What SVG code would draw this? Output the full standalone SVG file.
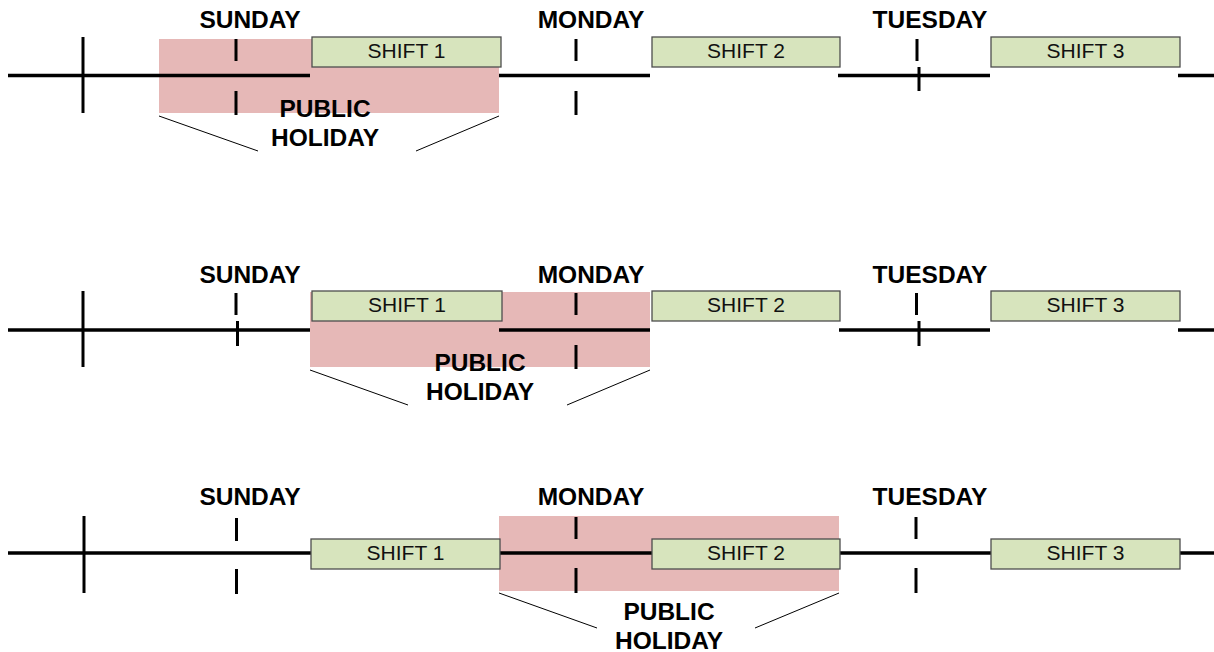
<svg xmlns="http://www.w3.org/2000/svg" width="1214" height="652" viewBox="0 0 1214 652">
<style>
.bg{fill:#ffffff}
.hol{fill:#e6b8b7}
.tl{stroke:#000;stroke-width:3.5;fill:none}
.tk{stroke:#000;stroke-width:3;fill:none}
.dg{stroke:#000;stroke-width:1;fill:none}
.sh{fill:#d7e4bd;stroke:#4d4d4d;stroke-width:1.3}
.st{font-family:"Liberation Sans",Arial,sans-serif;font-size:21px;fill:#111;text-anchor:middle}
.day{font-family:"Liberation Sans",Arial,sans-serif;font-size:24.5px;font-weight:bold;fill:#000;text-anchor:middle}
.ph{font-family:"Liberation Sans",Arial,sans-serif;font-size:24.5px;font-weight:bold;fill:#000;text-anchor:middle}
</style>
<rect class="bg" x="0" y="0" width="1214" height="652"/>

<!-- Panel 1 -->
<g id="holiday1">
<rect class="hol" x="159" y="39" width="340" height="74"/>
</g>
<g id="connectors1">
<line class="tl" x1="8" y1="75.5" x2="310" y2="75.5"/>
<line class="tl" x1="499" y1="75.5" x2="650" y2="75.5"/>
<line class="tl" x1="838" y1="75.5" x2="990" y2="75.5"/>
<line class="tl" x1="1178" y1="75.5" x2="1214" y2="75.5"/>
<line class="tk" x1="83" y1="37" x2="83" y2="113"/>
<line class="tk" x1="236" y1="39" x2="236" y2="61"/>
<line class="tk" x1="236" y1="91" x2="236" y2="115"/>
<line class="tk" x1="576" y1="39" x2="576" y2="61"/>
<line class="tk" x1="576" y1="91" x2="576" y2="115"/>
<line class="tk" x1="917" y1="39" x2="917" y2="61"/>
<line class="tk" x1="919" y1="67" x2="919" y2="91"/>
<line class="dg" x1="159" y1="116" x2="258" y2="151"/>
<line class="dg" x1="499" y1="116" x2="416" y2="151"/>
</g>
<g id="days1">
<text class="day" x="250" y="28">SUNDAY</text>
<text class="day" x="591" y="28">MONDAY</text>
<text class="day" x="930" y="28">TUESDAY</text>
</g>
<g id="p1-shift1"><rect class="sh" x="312" y="37" width="189" height="30"/><text class="st" x="406.5" y="58">SHIFT 1</text></g>
<g id="p1-shift2"><rect class="sh" x="652" y="37" width="188" height="30"/><text class="st" x="746" y="58">SHIFT 2</text></g>
<g id="p1-shift3"><rect class="sh" x="991" y="37" width="189" height="30"/><text class="st" x="1085.5" y="58">SHIFT 3</text></g>
<g id="p1-label"><text class="ph" x="325" y="117">PUBLIC</text><text class="ph" x="325" y="146">HOLIDAY</text></g>

<!-- Panel 2 -->
<g id="holiday2">
<rect class="hol" x="310" y="292" width="340" height="75"/>
</g>
<g id="connectors2">
<line class="tl" x1="8" y1="330" x2="310" y2="330"/>
<line class="tl" x1="499" y1="330" x2="650" y2="330"/>
<line class="tl" x1="839" y1="330" x2="990" y2="330"/>
<line class="tl" x1="1178" y1="330" x2="1214" y2="330"/>
<line class="tk" x1="83" y1="291" x2="83" y2="367"/>
<line class="tk" x1="236" y1="293" x2="236" y2="315"/>
<line class="tk" x1="237.5" y1="321" x2="237.5" y2="346"/>
<line class="tk" x1="576" y1="293" x2="576" y2="315"/>
<line class="tk" x1="576" y1="345" x2="576" y2="369"/>
<line class="tk" x1="916.5" y1="293" x2="916.5" y2="315"/>
<line class="tk" x1="919" y1="321" x2="919" y2="346"/>
<line class="dg" x1="310" y1="370" x2="408" y2="405"/>
<line class="dg" x1="650" y1="370" x2="567" y2="405"/>
</g>
<g id="days2">
<text class="day" x="250" y="283">SUNDAY</text>
<text class="day" x="591" y="283">MONDAY</text>
<text class="day" x="930" y="283">TUESDAY</text>
</g>
<g id="p2-shift1"><rect class="sh" x="312" y="291" width="190" height="30"/><text class="st" x="407" y="312">SHIFT 1</text></g>
<g id="p2-shift2"><rect class="sh" x="652" y="291" width="188" height="30"/><text class="st" x="746" y="312">SHIFT 2</text></g>
<g id="p2-shift3"><rect class="sh" x="991" y="291" width="189" height="30"/><text class="st" x="1085.5" y="312">SHIFT 3</text></g>
<g id="p2-label"><text class="ph" x="480" y="371">PUBLIC</text><text class="ph" x="480" y="400">HOLIDAY</text></g>

<!-- Panel 3 -->
<g id="holiday3">
<rect class="hol" x="499" y="516" width="340" height="75"/>
</g>
<g id="connectors3">
<line class="tl" x1="8" y1="553" x2="311" y2="553"/>
<line class="tl" x1="500" y1="553" x2="652" y2="553"/>
<line class="tl" x1="840" y1="553" x2="991" y2="553"/>
<line class="tl" x1="1180" y1="553" x2="1214" y2="553"/>
<line class="tk" x1="84" y1="516" x2="84" y2="593"/>
<line class="tk" x1="236.5" y1="518" x2="236.5" y2="541"/>
<line class="tk" x1="236.5" y1="569" x2="236.5" y2="594"/>
<line class="tk" x1="576" y1="517" x2="576" y2="539"/>
<line class="tk" x1="576" y1="568" x2="576" y2="593"/>
<line class="tk" x1="916" y1="517" x2="916" y2="539"/>
<line class="tk" x1="916" y1="568" x2="916" y2="593"/>
<line class="dg" x1="499" y1="593" x2="597" y2="628"/>
<line class="dg" x1="839" y1="593" x2="755" y2="628"/>
</g>
<g id="days3">
<text class="day" x="250" y="505">SUNDAY</text>
<text class="day" x="591" y="505">MONDAY</text>
<text class="day" x="930" y="505">TUESDAY</text>
</g>
<g id="p3-shift1"><rect class="sh" x="311" y="539" width="189" height="30"/><text class="st" x="405.5" y="560">SHIFT 1</text></g>
<g id="p3-shift2"><rect class="sh" x="652" y="539" width="188" height="30"/><text class="st" x="746" y="560">SHIFT 2</text></g>
<g id="p3-shift3"><rect class="sh" x="991" y="539" width="189" height="30"/><text class="st" x="1085.5" y="560">SHIFT 3</text></g>
<g id="p3-label"><text class="ph" x="669" y="620">PUBLIC</text><text class="ph" x="669" y="649">HOLIDAY</text></g>
</svg>
